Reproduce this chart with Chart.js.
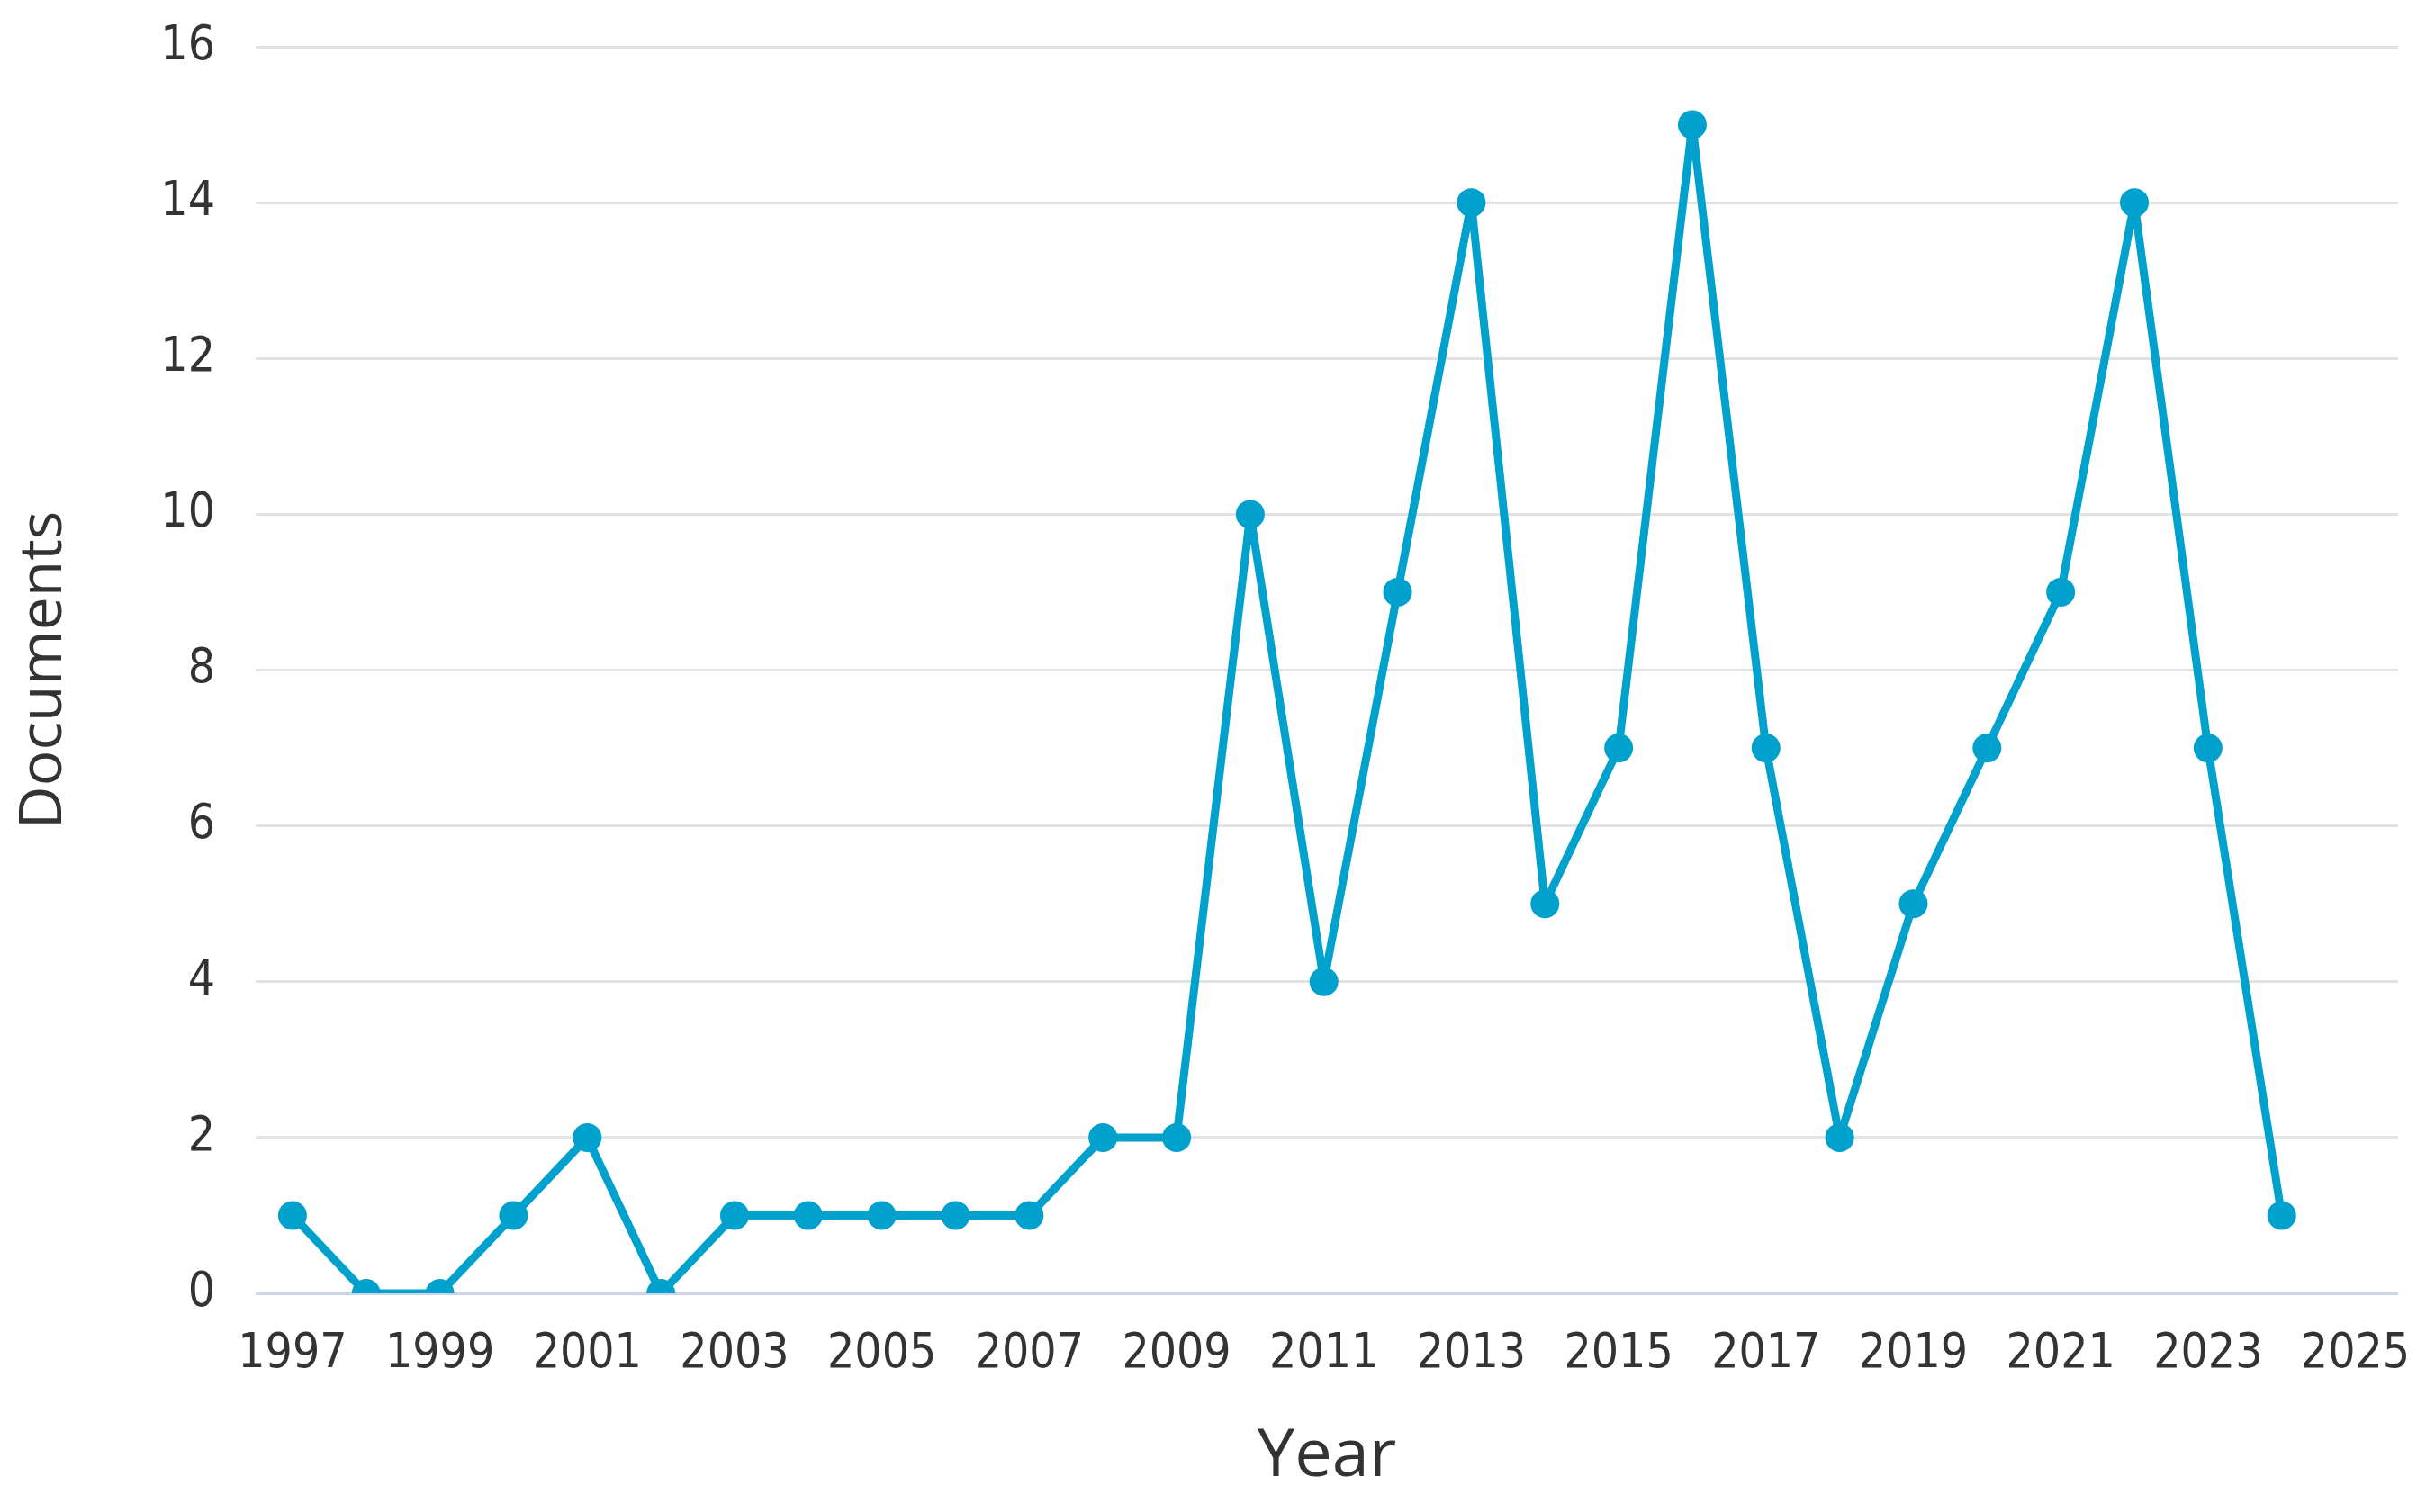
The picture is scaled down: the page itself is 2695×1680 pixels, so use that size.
<!DOCTYPE html>
<html>
<head>
<meta charset="utf-8">
<title>Documents per year</title>
<script src="https://cdn.jsdelivr.net/npm/chart.js@4.4.1/dist/chart.umd.min.js"></script>
<style>
  html, body { margin: 0; padding: 0; background: #fff; }
  canvas { display: block; }
</style>
</head>
<body>
<canvas id="myChart" width="2695" height="1680"></canvas>
<script>
// data yang dibaca dari gambar
const years = [1997, 1998, 1999, 2000, 2001, 2002, 2003, 2004, 2005, 2006, 2007, 2008, 2009, 2010,
  2011, 2012, 2013, 2014, 2015, 2016, 2017, 2018, 2019, 2020, 2021, 2022, 2023, 2024];
const documents = [1, 0, 0, 1, 2, 0, 1, 1, 1, 1, 1, 2, 2, 10,
  4, 9, 14, 5, 7, 15, 7, 2, 5, 7, 9, 14, 7, 1];
const xTicks = [1997, 1999, 2001, 2003, 2005, 2007, 2009, 2011, 2013, 2015, 2017, 2019, 2021, 2023, 2025];
const yTicks = [0, 2, 4, 6, 8, 10, 12, 14, 16];

const lineColor = "#00a1cd";
const tickFont = { family: "'Liberation Sans Narrow', 'DejaVu Sans Condensed', 'Liberation Sans'", size: 53 };

const ctx = document.getElementById("myChart");
new Chart(ctx, {
  type: "line",
  data: {
    datasets: [
      {
        label: "Documents",
        data: years.map((y, i) => ({ x: y, y: documents[i] })),
        borderColor: lineColor,
        backgroundColor: lineColor,
        borderWidth: 9,
        borderJoinStyle: "round",
        pointRadius: 16,
        pointBorderWidth: 0,
        pointBackgroundColor: lineColor,
        tension: 0,
      },
    ],
  },
  options: {
    responsive: false,
    animation: false,
    layout: { padding: { left: 10, right: 31, top: 52, bottom: 17 } },
    plugins: {
      legend: { display: false },
      tooltip: { enabled: false },
    },
    scales: {
      x: {
        type: "linear",
        min: 1996.5,
        max: 2025.58,
        afterBuildTicks: (scale) => {
          scale.ticks = xTicks.map((v) => ({ value: v }));
        },
        afterFit: (scale) => {
          scale.height = 226;
          scale.paddingLeft = 0;
          scale.paddingRight = 0;
        },
        grid: { display: false, drawTicks: false },
        border: { display: false },
        ticks: {
          font: tickFont,
          color: "#333333",
          padding: 36,
          maxRotation: 0,
          autoSkip: false,
          callback: (v) => String(v),
        },
        title: {
          display: true,
          text: "Year",
          color: "#333333",
          font: { family: "'Open Sans'", size: 74 },
          padding: 0,
        },
      },
      y: {
        min: 0,
        max: 16,
        afterBuildTicks: (scale) => {
          scale.ticks = yTicks.map((v) => ({ value: v }));
        },
        afterFit: (scale) => {
          scale.width = 274;
          scale.paddingTop = 0;
          scale.paddingBottom = 0;
        },
        grid: {
          drawTicks: false,
          lineWidth: 3,
          color: (c) => (c.tick && c.tick.value === 0 ? "#ccd6eb" : "#e2e2e2"),
        },
        border: { display: false },
        ticks: {
          font: tickFont,
          color: "#333333",
          padding: 45,
        },
        title: {
          display: true,
          text: "Documents",
          color: "#333333",
          font: { family: "'Open Sans'", size: 66 },
          padding: 0,
        },
      },
    },
  },
});
</script>
</body>
</html>
